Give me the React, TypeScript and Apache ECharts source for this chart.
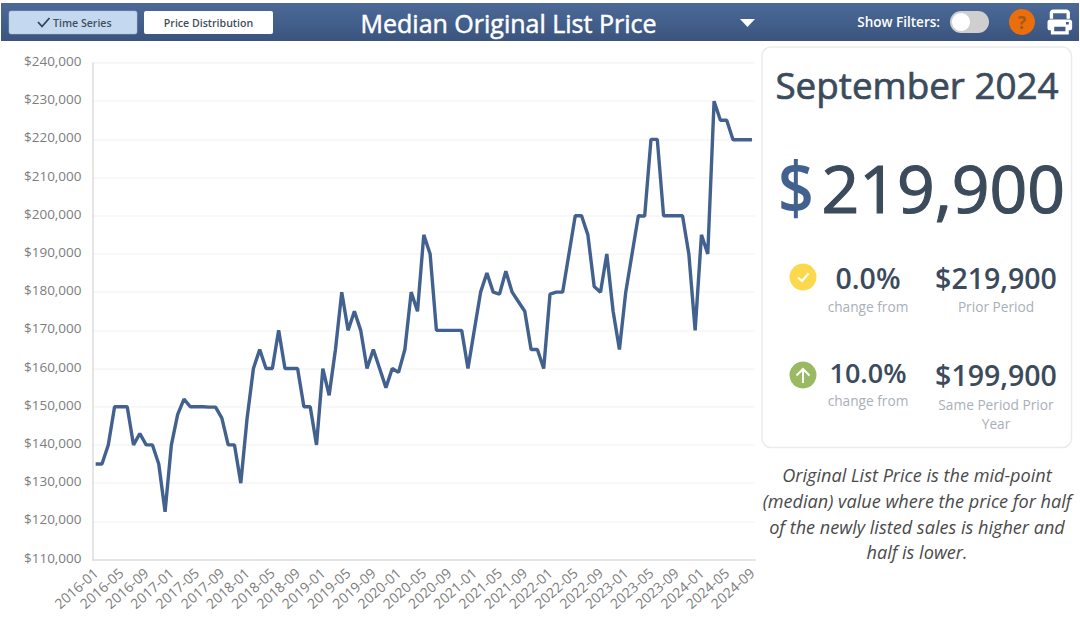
import React, { useEffect, useRef } from "react";
import * as echarts from "echarts";

const startYear = 2016;
const months = Array.from({ length: 105 }, (_, i) => {
  const y = startYear + Math.floor(i / 12);
  const m = (i % 12) + 1;
  return `${y}-${m < 10 ? "0" : ""}${m}`;
});
const y2016 = [135000, 135000, 140000, 150000, 150000, 150000, 140000, 143000, 140000, 140000, 135000, 122500];
const y2017 = [140000, 148000, 152000, 150000, 150000, 150000, 149900, 149900, 147000, 140000, 140000, 130000];
const y2018 = [147000, 160000, 165000, 160000, 160000, 170000, 160000, 160000, 160000, 150000, 150000, 140000];
const y2019 = [160000, 153000, 165000, 180000, 170000, 175000, 170000, 160000, 165000, 160000, 155000, 160000];
const y2020 = [159000, 165000, 180000, 175000, 195000, 190000, 170000, 170000, 170000, 170000, 170000, 160000];
const y2021 = [170000, 180000, 185000, 180000, 179500, 185500, 180000, 177500, 175000, 165000, 165000, 160000];
const y2022 = [179500, 180000, 180000, 190000, 200000, 200000, 195000, 181500, 180000, 190000, 175000, 165000];
const y2023 = [180000, 190000, 200000, 199900, 220000, 220000, 200000, 200000, 200000, 200000, 190000, 170000];
const y2024 = [195000, 190000, 230000, 225000, 225000, 219900, 219900, 219900, 219900];
const prices = [...y2016, ...y2017, ...y2018, ...y2019, ...y2020, ...y2021, ...y2022, ...y2023, ...y2024];

const FONT = "'Open Sans', 'Noto Sans', sans-serif";
const DARK = "#3c4b5c";
const GREY = "#a9b0b8";
const BLUE = "#42618f";

const printerPath =
  "M5 0H17C18.5 0 20 1.5 20 3V9H17V3.5H5V9H2V3C2 1.5 3.5 0 5 0ZM2.5 9.5H19.5C21 9.5 22 10.5 22 12V18C22 19.2 21 20 20 20H19V24H3V20H2C1 20 0 19.2 0 18V12C0 10.5 1 9.5 2.5 9.5ZM6 16.5V21H16V16.5ZM16.5 12V14.5H19V12Z";
echarts.graphic.registerShape("printerIcon", echarts.graphic.extendPath(printerPath, {}) as any);

function txt(x: number, y: number, text: string, font: string, fill: string, align = "center", extra: any = {}) {
  return {
    type: "text",
    x,
    y,
    silent: true,
    style: { text, font, fill, align, verticalAlign: "middle", ...extra },
  };
}

export default function App() {
  const ref = useRef<HTMLDivElement>(null);
  useEffect(() => {
    const chart = echarts.init(ref.current!, undefined, { renderer: "svg" });
    chart.setOption({
      animation: false,
      backgroundColor: "#ffffff",
      grid: { left: 92.5, top: 63, width: 662.6, height: 496.5, containLabel: false },
      xAxis: {
        type: "category",
        data: months,
        boundaryGap: true,
        axisTick: { show: false },
        axisLine: { lineStyle: { color: "#dddddd", width: 1.5 } },
        axisLabel: {
          interval: 3,
          rotate: 42,
          margin: 11,
          color: "#7d7d7d",
          fontFamily: FONT,
          fontSize: 14,
        },
      },
      yAxis: {
        type: "value",
        min: 110000,
        max: 240000,
        interval: 10000,
        axisLine: { show: true, lineStyle: { color: "#dddddd", width: 1.5 } },
        axisTick: { show: false },
        splitLine: { lineStyle: { color: "#f6f6f6", width: 1.5 } },
        axisLabel: {
          margin: 11,
          color: "#7d7d7d",
          fontFamily: FONT,
          fontSize: 13.5,
          verticalAlign: "bottom",
          lineHeight: 4,
          formatter: (v: number) => "$" + v.toLocaleString("en-US"),
        },
      },
      series: [
        {
          type: "line",
          data: prices,
          symbol: "none",
          lineStyle: { color: BLUE, width: 3.4 },
        },
      ],
      graphic: [
        {
          type: "rect",
          shape: { x: 1, y: 3, width: 1078, height: 38 },
          silent: true,
          style: {
            fill: new echarts.graphic.LinearGradient(0, 0, 0, 1, [
              { offset: 0, color: "#4c6a98" },
              { offset: 1, color: "#3a547e" },
            ]),
          },
        },
        {
          type: "rect",
          shape: { x: 9, y: 11, width: 128, height: 23, r: 2 },
          style: { fill: "#c4d9ef", stroke: "#aebfd4", lineWidth: 0.5 },
          silent: true,
        },
        {
          type: "polyline",
          shape: { points: [[38, 22], [42, 26.5], [49.5, 18]] },
          style: { stroke: "#33415a", lineWidth: 1.8, fill: "none" },
          silent: true,
        },
        txt(53, 22.5, "Time Series", "600 10.6px " + FONT, "#3f4d60", "left"),
        {
          type: "rect",
          shape: { x: 144, y: 11, width: 129, height: 23, r: 2 },
          style: { fill: "#ffffff" },
          silent: true,
        },
        txt(208.5, 22.5, "Price Distribution", "600 10.6px " + FONT, "#3f4d60"),
        txt(508.5, 23, "Median Original List Price", "400 25px " + FONT, "#ffffff", "center", { stroke: "#ffffff", lineWidth: 0.5 }),
        {
          type: "polygon",
          shape: { points: [[740, 19], [755, 19], [747.5, 27]] },
          style: { fill: "#ffffff", lineJoin: "round" },
          silent: true,
        },
        txt(940, 22, "Show Filters:", "600 13.5px " + FONT, "#ffffff", "right"),
        {
          type: "rect",
          shape: { x: 950, y: 11, width: 39, height: 22, r: 11 },
          style: { fill: "#cfcfcf" },
          silent: true,
        },
        { type: "circle", shape: { cx: 961, cy: 22, r: 9 }, style: { fill: "#ffffff" }, silent: true },
        { type: "circle", shape: { cx: 1022, cy: 22, r: 13 }, style: { fill: "#ea6f0c" }, silent: true },
        txt(1022, 22, "?", "700 18px " + FONT, "#a3591a"),
        {
          type: "printerIcon",
          x: 1047.5,
          y: 9.5,
          scaleX: 1.12,
          scaleY: 1.04,
          style: { fill: "#ffffff" },
          silent: true,
        },
        {
          type: "rect",
          shape: { x: 762, y: 47, width: 309.5, height: 400.5, r: 9 },
          style: {
            fill: "#ffffff",
            stroke: "#ebebeb",
            lineWidth: 1.5,
          },
          silent: true,
        },
        txt(917, 85, "September 2024", "400 36.8px " + FONT, DARK, "center", { stroke: DARK, lineWidth: 0.7 }),
        { ...txt(796, 186, "$", "600 72px " + FONT, BLUE), scaleX: 0.87 },
        txt(1065, 187, "219,900", "400 66px " + FONT, DARK, "right", { stroke: DARK, lineWidth: 1.2 }),
        { type: "circle", shape: { cx: 803, cy: 277, r: 13.5 }, style: { fill: "#fcd94c" }, silent: true },
        {
          type: "polyline",
          shape: { points: [[798, 277.5], [802, 281], [808.5, 273.5]] },
          style: { stroke: "#ffffff", lineWidth: 2, fill: "none" },
          silent: true,
        },
        txt(868, 278, "0.0%", "600 28.5px " + FONT, DARK),
        txt(868, 306, "change from", "400 13.7px " + FONT, GREY),
        txt(996, 278, "$219,900", "600 28.5px " + FONT, DARK),
        txt(996, 306, "Prior Period", "400 13.7px " + FONT, GREY),
        { type: "circle", shape: { cx: 803, cy: 375, r: 13.5 }, style: { fill: "#9aba62" }, silent: true },
        {
          type: "polyline",
          shape: { points: [[796.5, 375.5], [803, 369], [809.5, 375.5]] },
          style: { stroke: "#ffffff", lineWidth: 2, fill: "none" },
          silent: true,
        },
        {
          type: "line",
          shape: { x1: 803, y1: 369, x2: 803, y2: 383 },
          style: { stroke: "#ffffff", lineWidth: 2 },
          silent: true,
        },
        txt(868, 372, "10.0%", "600 27px " + FONT, DARK),
        txt(868, 400, "change from", "400 13.7px " + FONT, GREY),
        txt(996, 375, "$199,900", "600 28.5px " + FONT, DARK),
        txt(996, 404, "Same Period Prior", "400 13.7px " + FONT, GREY),
        txt(996, 423, "Year", "400 13.7px " + FONT, GREY),
        txt(917, 475, "Original List Price is the mid-point", "italic 400 18.1px " + FONT, "#4a4a4a"),
        txt(917, 501, "(median) value where the price for half", "italic 400 18.1px " + FONT, "#4a4a4a"),
        txt(917, 527, "of the newly listed sales is higher and", "italic 400 18.1px " + FONT, "#4a4a4a"),
        txt(917, 552, "half is lower.", "italic 400 18.1px " + FONT, "#4a4a4a"),
      ],
    });
    return () => chart.dispose();
  }, []);
  return <div ref={ref} style={{ position: "fixed", left: 0, top: 0, width: 1080, height: 623 }} />;
}
